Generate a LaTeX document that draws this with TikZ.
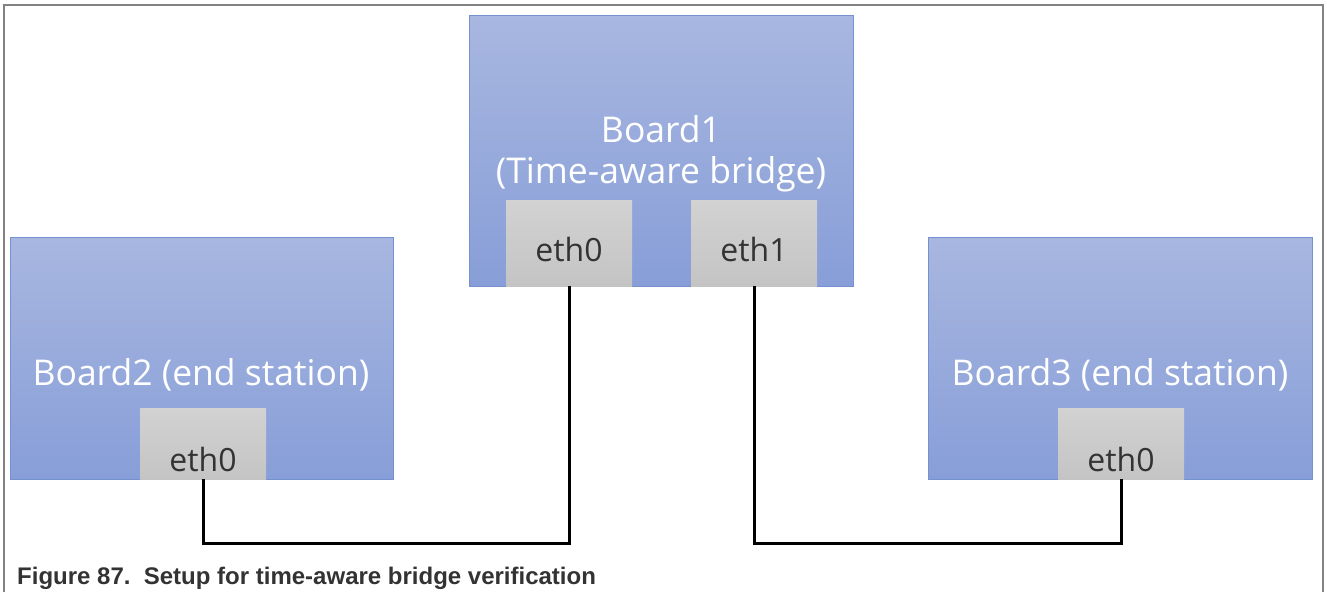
\documentclass[tikz,border=0pt]{standalone}
\usepackage{fontspec}
\setmainfont{Open Sans}
\newfontfamily\capfont{Liberation Sans}
\definecolor{boardtop}{RGB}{168,183,224}
\definecolor{boardbot}{RGB}{136,158,216}
\definecolor{boardline}{RGB}{118,145,207}
\definecolor{porttop}{RGB}{210,210,210}
\definecolor{portbot}{RGB}{196,196,196}
\definecolor{framegray}{RGB}{130,130,130}
\definecolor{captext}{RGB}{51,51,51}
\begin{document}
\begin{tikzpicture}[x=1pt,y=-1pt,
  board/.style={draw=boardline,line width=1pt,top color=boardtop,bottom color=boardbot,anchor=north west,inner sep=0pt,outer sep=0pt},
  port/.style={draw=none,top color=porttop,bottom color=portbot,anchor=north west,inner sep=0pt,outer sep=0pt},
  boardlabel/.style={text=white,font=\fontsize{35.5}{42}\selectfont,anchor=base,inner sep=0pt},
  portlabel/.style={text=black!80,font=\fontsize{32}{36}\selectfont,anchor=base,inner sep=0pt},
  wire/.style={line width=3pt,black}]
\useasboundingbox (0,0) rectangle (1327,592);
\fill[white] (0,0) rectangle (1327,592);
\draw[framegray,line width=1.5pt] (4,592) -- (4,5) -- (1323,5) -- (1323,592);
% boards
\node[board,minimum width=383pt,minimum height=242pt] (b2) at (10,237) {};
\node[board,minimum width=384pt,minimum height=271pt] (b1) at (469,15) {};
\node[board,minimum width=384pt,minimum height=242pt] (b3) at (928,237) {};
% ports
\node[port,minimum width=126pt,minimum height=71pt] (b2e0) at (140,408) {};
\node[port,minimum width=126pt,minimum height=86pt] (b1e0) at (506,200) {};
\node[port,minimum width=126pt,minimum height=86pt] (b1e1) at (691,200) {};
\node[port,minimum width=126pt,minimum height=71pt] (b3e0) at (1058,408) {};
% labels
\node[boardlabel] (l2) at (201,385) {Board2 (end station)};
\node[boardlabel] (l3) at (1120,385) {Board3 (end station)};
\node[boardlabel] (l1a) at (661,142) {Board1};
\node[boardlabel] (l1b) at (661,183) {(Time-aware bridge)};
\node[portlabel] (t2e0) at (203,471) {eth0};
\node[portlabel] (t1e0) at (569,261) {eth0};
\node[portlabel] (t1e1) at (754,261) {eth1};
\node[portlabel] (t3e0) at (1121,471) {eth0};
% wires
\draw[wire] (b2e0.south) -- ++(0,64) -| (b1e0.south);
\draw[wire] (b1e1.south) -- ++(0,257) -| (b3e0.south);
% caption
\node[anchor=base west,inner sep=0pt,text=captext,font=\capfont\bfseries\fontsize{24}{28}\selectfont] (cap) at (17,584) {Figure 87.\ \ Setup for time-aware bridge verification};
\end{tikzpicture}
\end{document}
